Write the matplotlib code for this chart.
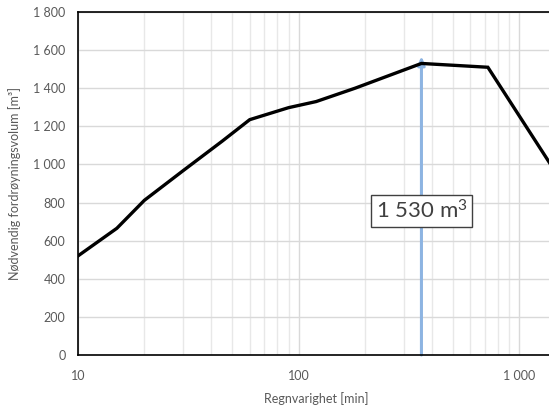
import matplotlib.pyplot as plt
from matplotlib.ticker import FixedLocator, FuncFormatter, LogLocator, NullFormatter

plt.rcParams['font.family'] = ['Lato', 'DejaVu Sans']
plt.rcParams['mathtext.default'] = 'regular'

# regnvarighet [min] og nødvendig volum [m3]
durations = [10, 15, 20, 30, 45, 60, 90, 120, 180, 360, 720, 1440]
volumes = [520, 665, 812, 968, 1122, 1235, 1298, 1330, 1400, 1530, 1510, 970]

peak_x = 360
peak_label = "1 530 m$^{3}$"
y_ticks = [0, 200, 400, 600, 800, 1000, 1200, 1400, 1600, 1800]
x_ticks = [10, 100, 1000]


def space_thousands(v, pos=None):
    return f"{v:,.0f}".replace(",", " ")


W, H = 549, 407
fig = plt.figure(figsize=(W / 100, H / 100), dpi=100)
ax = fig.add_axes([78 / W, 52 / H, (554.3 - 78) / W, (355 - 12) / H])

ax.set_xscale("log")
ax.set_xlim(10, 1440)
ax.set_ylim(0, 1800)

ax.grid(True, which="major", color="#D9D9D9", lw=1.0, zorder=0)
ax.grid(True, which="minor", axis="x", color="#E8E8E8", lw=1.0, zorder=0)

ax.xaxis.set_major_locator(FixedLocator(x_ticks))
ax.xaxis.set_major_formatter(FuncFormatter(space_thousands))
ax.xaxis.set_minor_locator(LogLocator(base=10, subs=range(2, 10)))
ax.xaxis.set_minor_formatter(NullFormatter())
ax.yaxis.set_major_locator(FixedLocator(y_ticks))
ax.yaxis.set_major_formatter(FuncFormatter(space_thousands))

ax.tick_params(axis="both", which="both", length=0, labelsize=9, labelcolor="#595959")
ax.tick_params(axis="x", pad=11)
ax.tick_params(axis="y", pad=9)

for side in ["left", "bottom", "top"]:
    ax.spines[side].set_color("black")
    ax.spines[side].set_linewidth(1.2)
ax.spines["right"].set_visible(False)

ax.plot(durations, volumes, color="black", lw=2.4, zorder=3, solid_joinstyle="miter")

ax.annotate("", xy=(peak_x, 1570), xytext=(peak_x, 0),
            arrowprops=dict(arrowstyle="-|>,head_length=0.5,head_width=0.2",
                            color="#8DB4E2", lw=2.2, shrinkA=0, shrinkB=0),
            zorder=2)

ax.text(peak_x, 758, peak_label, ha="center", va="center", fontsize=16, color="#404040",
        bbox=dict(boxstyle="square,pad=0.2", fc="white", ec="#404040", lw=1.0), zorder=4)

ax.set_xlabel("Regnvarighet [min]", fontsize=9, color="#595959", labelpad=7)
ax.set_ylabel("Nødvendig fordrøyningsvolum [m³]", fontsize=9, color="#595959", labelpad=9)

fig.savefig("out.png", dpi=100)
